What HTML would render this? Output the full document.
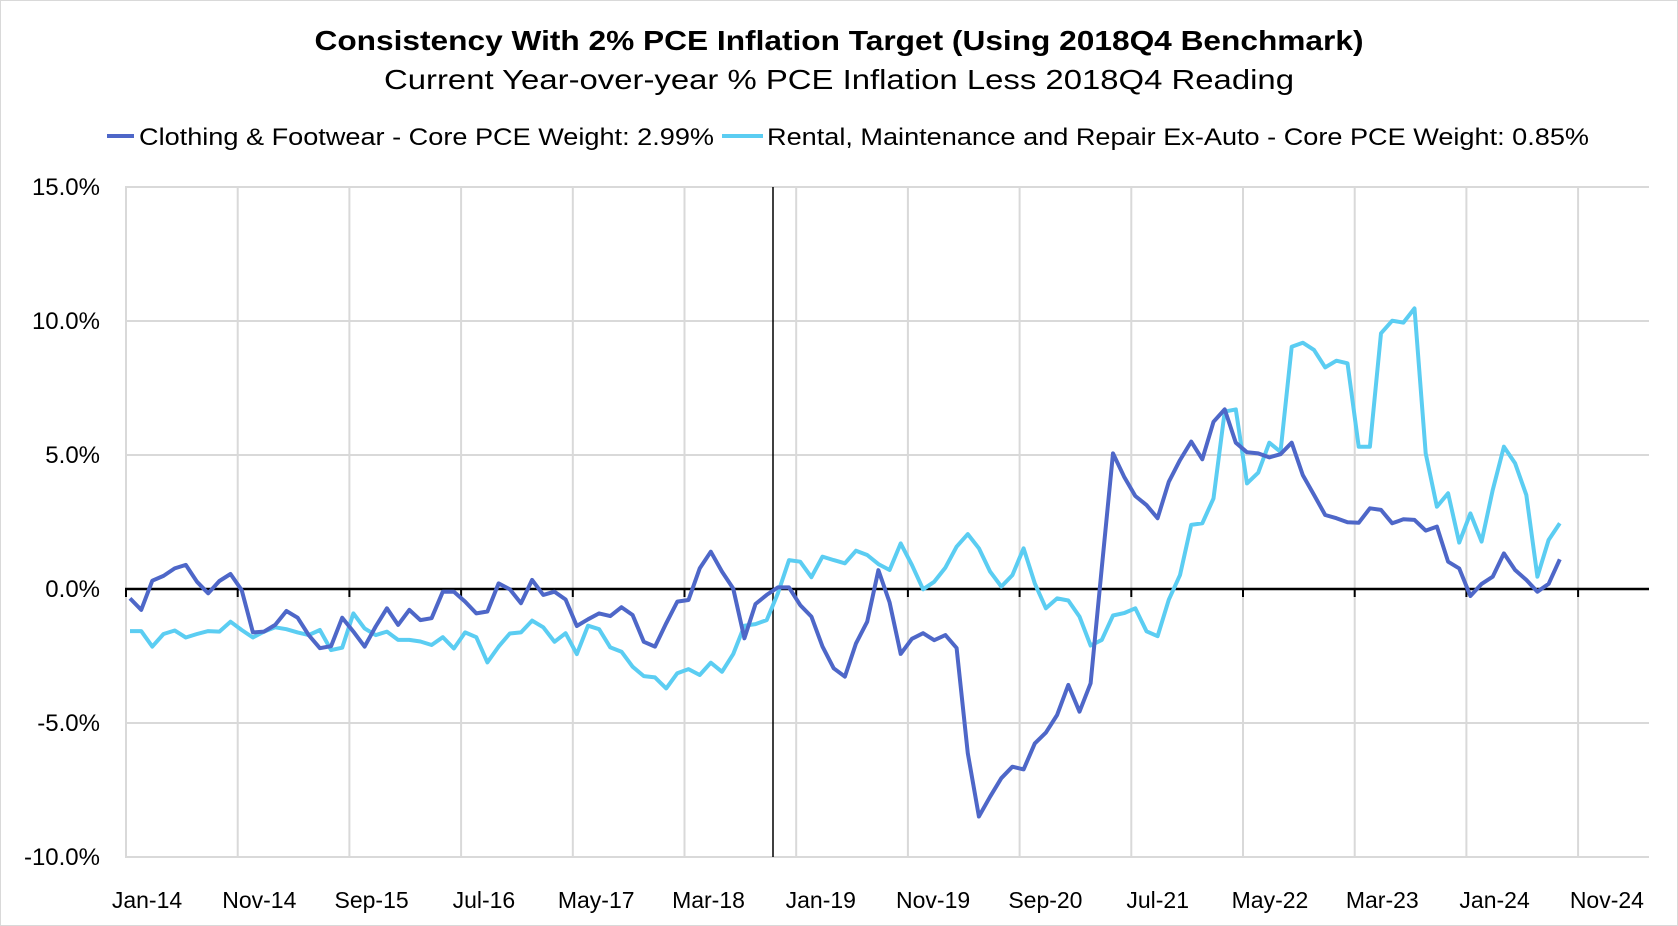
<!DOCTYPE html>
<html><head><meta charset="utf-8"><style>
html,body{margin:0;padding:0;background:#fff}
svg{display:block;font-family:"Liberation Sans",Arial,sans-serif}
</style></head><body>
<svg id="chart" width="1678" height="926" viewBox="0 0 1678 926" xmlns="http://www.w3.org/2000/svg">
<rect x="0.5" y="0.5" width="1677" height="925" fill="#fff" stroke="#d9d9d9"/>
<text x="839" y="50" text-anchor="middle" font-size="28" font-weight="bold" textLength="1049" lengthAdjust="spacingAndGlyphs">Consistency With 2% PCE Inflation Target (Using 2018Q4 Benchmark)</text>
<text x="839" y="89" text-anchor="middle" font-size="28" textLength="910" lengthAdjust="spacingAndGlyphs">Current Year-over-year % PCE Inflation Less 2018Q4 Reading</text>
<g>
<g>
<line x1="107" y1="136" x2="134" y2="136" stroke="#4e67c8" stroke-width="4"/>
<text x="139" y="145" font-size="24" textLength="575" lengthAdjust="spacingAndGlyphs">Clothing &amp; Footwear - Core PCE Weight: 2.99%</text>
</g>
<g>
<line x1="722" y1="136" x2="763" y2="136" stroke="#5bcdf2" stroke-width="4"/>
<text x="767" y="145" font-size="24" textLength="822" lengthAdjust="spacingAndGlyphs">Rental, Maintenance and Repair Ex-Auto - Core PCE Weight: 0.85%</text>
</g>
</g>
<g id="grid"></g>
<g id="axes"></g>
<g id="series"></g>
</svg>
<script>
const yTicks=[15,10,5,0,-5,-10];
const xLabels=["Jan-14","Nov-14","Sep-15","Jul-16","May-17","Mar-18","Jan-19","Nov-19","Sep-20","Jul-21","May-22","Mar-23","Jan-24","Nov-24"];
const clothing=[-0.35,-0.78,0.31,0.49,0.77,0.90,0.27,-0.16,0.30,0.56,-0.04,-1.62,-1.59,-1.34,-0.82,-1.07,-1.72,-2.21,-2.13,-1.07,-1.59,-2.15,-1.40,-0.72,-1.34,-0.78,-1.16,-1.09,-0.10,-0.10,-0.47,-0.91,-0.84,0.21,-0.01,-0.53,0.34,-0.22,
-0.10,-0.39,-1.38,-1.13,-0.91,-1.01,-0.68,-0.97,-1.97,-2.15,-1.28,-0.47,-0.41,0.77,1.39,0.65,0.02,-1.84,-0.56,-0.22,0.06,0.06,-0.60,-1.03,-2.15,-2.96,-3.27,-2.03,-1.22,0.70,-0.50,-2.42,-1.86,-1.65,-1.91,-1.72,-2.20,-6.13,
-8.49,-7.75,-7.06,-6.63,-6.73,-5.76,-5.36,-4.70,-3.58,-4.58,-3.52,0.80,5.06,4.19,3.47,3.13,2.64,4.00,4.81,5.50,4.84,6.24,6.70,5.46,5.10,5.06,4.91,5.03,5.46,4.25,3.51,2.76,2.64,2.49,2.47,
3.01,2.95,2.45,2.60,2.58,2.18,2.33,1.02,0.77,-0.26,0.19,0.46,1.33,0.71,0.34,-0.10,0.19,1.11];
const rental=[-1.57,-1.57,-2.15,-1.68,-1.55,-1.81,-1.68,-1.57,-1.59,-1.22,-1.53,-1.81,-1.59,-1.43,-1.50,-1.62,-1.72,-1.53,-2.28,-2.19,-0.91,-1.47,-1.72,-1.59,-1.90,-1.90,-1.96,-2.09,-1.80,-2.22,-1.62,-1.80,-2.74,-2.15,-1.66,-1.62,-1.18,-1.43,
-1.97,-1.65,-2.43,-1.37,-1.50,-2.18,-2.34,-2.90,-3.25,-3.30,-3.71,-3.14,-2.99,-3.21,-2.75,-3.09,-2.43,-1.37,-1.31,-1.16,-0.16,1.08,1.02,0.44,1.21,1.08,0.96,1.43,1.27,0.93,0.71,1.70,0.90,-0.01,0.27,0.80,1.58,2.05,
1.52,0.65,0.09,0.52,1.52,0.21,-0.72,-0.35,-0.43,-1.03,-2.11,-1.90,-0.99,-0.90,-0.72,-1.58,-1.76,-0.40,0.52,2.39,2.45,3.38,6.62,6.70,3.94,4.34,5.46,5.12,9.04,9.19,8.92,8.27,8.52,8.42,5.31,
5.31,9.54,10.01,9.94,10.47,5.06,3.07,3.57,1.73,2.82,1.77,3.69,5.31,4.69,3.51,0.46,1.83,2.45];

const NS="http://www.w3.org/2000/svg";
const plotL=125,plotR=1649,plotT=187,plotB=857,yMin=-10,yMax=15;
function yS(v){return plotB-(v-yMin)/(yMax-yMin)*(plotB-plotT);}
function xS(i){return 130+11.17*i;}
function mk(tag,attrs,parent){const e=document.createElementNS(NS,tag);for(const k in attrs)e.setAttribute(k,attrs[k]);parent.appendChild(e);return e;}
const grid=document.getElementById('grid'),axes=document.getElementById('axes'),series=document.getElementById('series');
yTicks.forEach(t=>{
  const g=mk('line',{x1:plotL,x2:plotR,y1:yS(t),y2:yS(t),stroke:'#d9d9d9','stroke-width':2},grid);
  
  
  const tx=mk('text',{x:100,y:yS(t)+8,'text-anchor':'end','font-size':24},axes);
  tx.textContent=t.toFixed(1)+'%';
  
  
});
for(let k=0;k<14;k++){
  const gx=126+111.7*k;
  const g=mk('line',{x1:gx,x2:gx,y1:plotT,y2:plotB,stroke:'#d9d9d9','stroke-width':2},grid);
  
  
  const tk=mk('line',{x1:gx,x2:gx,y1:yS(0),y2:yS(0)+8,stroke:'#000','stroke-width':2},axes);
  
  
}
xLabels.forEach((l,k)=>{
  const tx=mk('text',{x:147+112.3*k,y:908,'text-anchor':'middle','font-size':23},axes);
  tx.textContent=l;
  
  
});
const zl=mk('line',{x1:plotL,x2:plotR,y1:yS(0),y2:yS(0),stroke:'#000','stroke-width':2.5},axes);


const vl=mk('line',{x1:773,x2:773,y1:plotT,y2:plotB,stroke:'#000','stroke-width':1.5},axes);


function drawSeries(arr,color,name){
  const p=mk('polyline',{points:arr.map((v,i)=>xS(i).toFixed(1)+','+yS(v).toFixed(1)).join(' '),fill:'none',stroke:color,'stroke-width':4,'stroke-linejoin':'round'},series);
  
  
}
drawSeries(rental,'#5bcdf2','rental-maintenance-repair-line');
drawSeries(clothing,'#4e67c8','clothing-footwear-line');
</script>
</body></html>
